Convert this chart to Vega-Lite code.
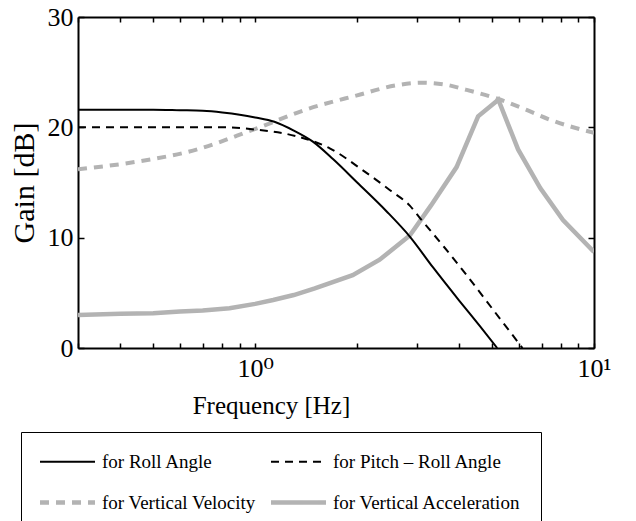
{
  "$schema": "https://vega.github.io/schema/vega-lite/v6.json",
  "autosize": {"type": "none"},
  "padding": {"left": 78, "top": 17, "right": 42, "bottom": 173},
  "width": 516,
  "height": 331,
  "background": "white",
  "config": {
    "view": {"stroke": null},
    "font": "Liberation Serif, Times New Roman, Times, DejaVu Serif, serif",
    "axis": {"domainColor": "black", "domainWidth": 2, "tickColor": "black", "tickWidth": 1.5, "grid": false, "labelColor": "black", "titleColor": "black", "labelFont": "Liberation Serif, Times New Roman, Times, DejaVu Serif, serif", "titleFont": "Liberation Serif, Times New Roman, Times, DejaVu Serif, serif", "titleFontWeight": "normal"}
  },
  "data": {"values": [
    {"f": 0.3, "g": 21.6, "s": "for Roll Angle"},
    {"f": 0.4, "g": 21.6, "s": "for Roll Angle"},
    {"f": 0.5, "g": 21.6, "s": "for Roll Angle"},
    {"f": 0.6, "g": 21.55, "s": "for Roll Angle"},
    {"f": 0.7, "g": 21.5, "s": "for Roll Angle"},
    {"f": 0.8, "g": 21.35, "s": "for Roll Angle"},
    {"f": 0.9, "g": 21.15, "s": "for Roll Angle"},
    {"f": 1.0, "g": 20.9, "s": "for Roll Angle"},
    {"f": 1.14, "g": 20.5, "s": "for Roll Angle"},
    {"f": 1.3, "g": 19.7, "s": "for Roll Angle"},
    {"f": 1.48, "g": 18.7, "s": "for Roll Angle"},
    {"f": 1.7, "g": 17.1, "s": "for Roll Angle"},
    {"f": 2.0, "g": 15.0, "s": "for Roll Angle"},
    {"f": 2.44, "g": 12.4, "s": "for Roll Angle"},
    {"f": 2.86, "g": 10.1, "s": "for Roll Angle"},
    {"f": 3.35, "g": 7.3, "s": "for Roll Angle"},
    {"f": 4.0, "g": 4.3, "s": "for Roll Angle"},
    {"f": 4.6, "g": 2.0, "s": "for Roll Angle"},
    {"f": 5.18, "g": 0, "s": "for Roll Angle"},
    {"f": 0.3, "g": 20.0, "s": "for  Pitch – Roll Angle"},
    {"f": 0.5, "g": 20.0, "s": "for  Pitch – Roll Angle"},
    {"f": 0.8, "g": 20.0, "s": "for  Pitch – Roll Angle"},
    {"f": 1.0, "g": 19.8, "s": "for  Pitch – Roll Angle"},
    {"f": 1.32, "g": 19.2, "s": "for  Pitch – Roll Angle"},
    {"f": 1.66, "g": 18.1, "s": "for  Pitch – Roll Angle"},
    {"f": 2.08, "g": 16.1, "s": "for  Pitch – Roll Angle"},
    {"f": 2.5, "g": 14.3, "s": "for  Pitch – Roll Angle"},
    {"f": 2.86, "g": 12.9, "s": "for  Pitch – Roll Angle"},
    {"f": 3.06, "g": 11.8, "s": "for  Pitch – Roll Angle"},
    {"f": 3.6, "g": 9.2, "s": "for  Pitch – Roll Angle"},
    {"f": 4.21, "g": 6.6, "s": "for  Pitch – Roll Angle"},
    {"f": 5.0, "g": 3.6, "s": "for  Pitch – Roll Angle"},
    {"f": 6.15, "g": 0, "s": "for  Pitch – Roll Angle"},
    {"f": 0.3, "g": 16.2, "s": "for Vertical Velocity"},
    {"f": 0.45, "g": 16.9, "s": "for Vertical Velocity"},
    {"f": 0.675, "g": 18.0, "s": "for Vertical Velocity"},
    {"f": 0.95, "g": 19.6, "s": "for Vertical Velocity"},
    {"f": 1.05, "g": 20.1, "s": "for Vertical Velocity"},
    {"f": 1.41, "g": 21.6, "s": "for Vertical Velocity"},
    {"f": 2.0, "g": 22.9, "s": "for Vertical Velocity"},
    {"f": 2.6, "g": 23.8, "s": "for Vertical Velocity"},
    {"f": 3.1, "g": 24.05, "s": "for Vertical Velocity"},
    {"f": 3.6, "g": 23.9, "s": "for Vertical Velocity"},
    {"f": 4.2, "g": 23.4, "s": "for Vertical Velocity"},
    {"f": 5.3, "g": 22.5, "s": "for Vertical Velocity"},
    {"f": 6.3, "g": 21.6, "s": "for Vertical Velocity"},
    {"f": 7.4, "g": 20.7, "s": "for Vertical Velocity"},
    {"f": 10, "g": 19.5, "s": "for Vertical Velocity"},
    {"f": 0.3, "g": 3.0, "s": "for Vertical Acceleration"},
    {"f": 0.4, "g": 3.1, "s": "for Vertical Acceleration"},
    {"f": 0.5, "g": 3.15, "s": "for Vertical Acceleration"},
    {"f": 0.6, "g": 3.3, "s": "for Vertical Acceleration"},
    {"f": 0.7, "g": 3.4, "s": "for Vertical Acceleration"},
    {"f": 0.84, "g": 3.6, "s": "for Vertical Acceleration"},
    {"f": 1.0, "g": 4.0, "s": "for Vertical Acceleration"},
    {"f": 1.13, "g": 4.35, "s": "for Vertical Acceleration"},
    {"f": 1.3, "g": 4.8, "s": "for Vertical Acceleration"},
    {"f": 1.5, "g": 5.4, "s": "for Vertical Acceleration"},
    {"f": 1.94, "g": 6.6, "s": "for Vertical Acceleration"},
    {"f": 2.33, "g": 8.0, "s": "for Vertical Acceleration"},
    {"f": 2.86, "g": 10.2, "s": "for Vertical Acceleration"},
    {"f": 3.3, "g": 12.9, "s": "for Vertical Acceleration"},
    {"f": 3.93, "g": 16.4, "s": "for Vertical Acceleration"},
    {"f": 4.55, "g": 21.0, "s": "for Vertical Acceleration"},
    {"f": 5.22, "g": 22.5, "s": "for Vertical Acceleration"},
    {"f": 5.97, "g": 18.0, "s": "for Vertical Acceleration"},
    {"f": 6.94, "g": 14.5, "s": "for Vertical Acceleration"},
    {"f": 8.1, "g": 11.6, "s": "for Vertical Acceleration"},
    {"f": 10, "g": 8.7, "s": "for Vertical Acceleration"}
  ]},
  "resolve": {"axis": {"x": "independent", "y": "independent"}},
  "layer": [
    {
      "layer": [
        {"transform": [{"filter": "datum.s == 'for Vertical Acceleration'"}], "mark": {"type": "line", "strokeWidth": 4.5, "clip": true}},
        {"transform": [{"filter": "datum.s == 'for Vertical Velocity'"}], "mark": {"type": "line", "strokeWidth": 4, "strokeDash": [9, 7], "interpolate": "monotone", "clip": true}},
        {"transform": [{"filter": "datum.s == 'for Roll Angle'"}], "mark": {"type": "line", "strokeWidth": 2, "interpolate": "monotone", "clip": true}},
        {"transform": [{"filter": "datum.s == 'for  Pitch – Roll Angle'"}], "mark": {"type": "line", "strokeWidth": 2, "strokeDash": [8, 6], "interpolate": "monotone", "clip": true}}
      ],
      "encoding": {
        "x": {"field": "f", "type": "quantitative",
          "scale": {"type": "log", "domain": [0.3, 10], "nice": false},
          "axis": {"orient": "bottom", "values": [0.3,0.4,0.5,0.6,0.7,0.8,0.9,1,2,3,4,5,6,7,8,9,10],
            "labelExpr": "datum.value == 1 ? '10⁰' : (datum.value == 10 ? '10¹' : '')",
            "tickSize": -5,
            "labelFontSize": 26, "labelPadding": 12, "labelFlush": false, "labelOverlap": false,
            "title": "Frequency [Hz]", "titleFontSize": 25, "titleX": 193, "titleY": 65, "titleBaseline": "alphabetic"}
        },
        "y": {"field": "g", "type": "quantitative",
          "scale": {"domain": [0, 30], "nice": false},
          "axis": {"orient": "left", "values": [0, 10, 20, 30], "tickSize": -6, "labelFontSize": 26, "labelPadding": 11,
            "title": "Gain [dB]", "titleFontSize": 30, "titleX": -45, "titleY": 165.5, "titleAngle": 270, "titleAlign": "center", "titleBaseline": "alphabetic"}
        },
        "color": {"field": "s", "type": "nominal",
          "scale": {"domain": ["for Roll Angle", "for  Pitch – Roll Angle", "for Vertical Velocity", "for Vertical Acceleration"],
            "range": ["#000000", "#000000", "#b3b3b3", "#b3b3b3"]},
          "legend": {"orient": "none", "legendX": -57, "legendY": 415, "columns": 2, "direction": "horizontal", "title": null,
            "strokeColor": "black", "padding": 20,
            "symbolType": "stroke", "symbolSize": 3025, "symbolOffset": 17,
            "labelFont": "Liberation Serif, Times New Roman, Times, DejaVu Serif, serif", "labelFontSize": 19, "labelColor": "black", "labelLimit": 400,
            "columnPadding": 5, "rowPadding": 21, "labelOffset": 25,
            "encode": {
              "legend": {"update": {"strokeWidth": {"value": 1}}},
              "symbols": {"update": {
                "strokeDash": {"signal": "datum.value == 'for  Pitch – Roll Angle' ? [8, 6] : (datum.value == 'for Vertical Velocity' ? [9, 7] : [1, 0])"},
                "strokeWidth": {"signal": "(datum.value == 'for Vertical Velocity' || datum.value == 'for Vertical Acceleration') ? 4.5 : 2"}
              }}
            }
          }
        }
      }
    },
    {
      "mark": {"type": "point", "opacity": 0},
      "encoding": {
        "x": {"field": "f", "type": "quantitative",
          "scale": {"type": "log", "domain": [0.3, 10], "nice": false},
          "axis": {"orient": "top", "values": [0.3,0.4,0.5,0.6,0.7,0.8,0.9,1,2,3,4,5,6,7,8,9,10], "labels": false, "title": null,
            "tickSize": -5}
        },
        "y": {"field": "g", "type": "quantitative",
          "scale": {"domain": [0, 30], "nice": false},
          "axis": {"orient": "right", "values": [0, 10, 20, 30], "labels": false, "title": null, "tickSize": -6}
        }
      }
    }
  ]
}
